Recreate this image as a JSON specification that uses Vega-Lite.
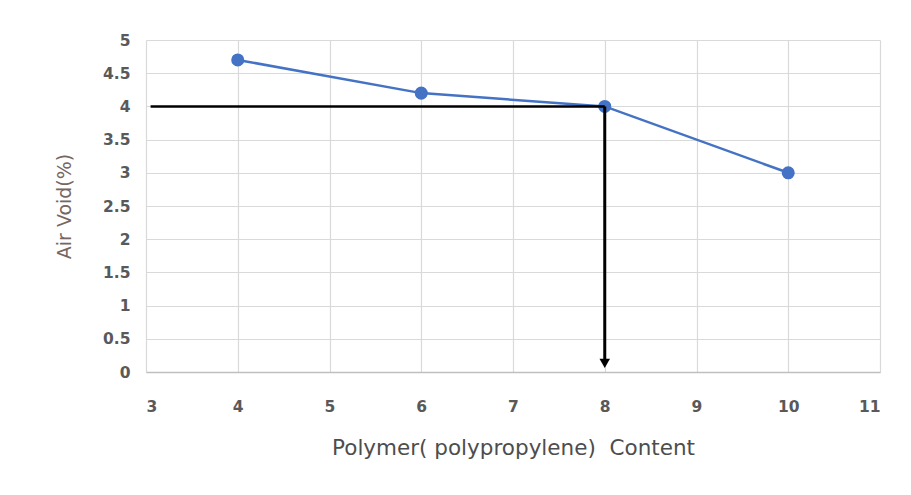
{
  "$schema": "https://vega.github.io/schema/vega-lite/v6.json",
  "width": 734,
  "height": 332,
  "autosize": {"type": "none"},
  "padding": {"left": 146, "top": 40, "right": 31, "bottom": 123},
  "background": "white",
  "config": {
    "view": {"stroke": null},
    "axis": {
      "labelFont": "DejaVu Sans",
      "labelFontSize": 15.5,
      "labelFontWeight": "bold",
      "labelColor": "#595959",
      "titleFont": "DejaVu Sans",
      "titleFontWeight": "normal",
      "titleFontSize": 19,
      "gridColor": "#d9d9d9",
      "gridWidth": 1.2,
      "ticks": false
    }
  },
  "datasets": {
    "series": [
      {"x": 4, "y": 4.7},
      {"x": 6, "y": 4.2},
      {"x": 8, "y": 4.0},
      {"x": 10, "y": 3.0}
    ],
    "guideH": [
      {"x": 3.05, "y": 4.0},
      {"x": 8, "y": 4.0}
    ],
    "guideV": [
      {"x": 8, "y": 4.0},
      {"x": 8, "y": 0.12}
    ],
    "arrow": [
      {"x": 8, "y": 0.13}
    ]
  },
  "encoding": {
    "x": {
      "field": "x", "type": "quantitative",
      "scale": {"domain": [3, 11], "nice": false},
      "axis": {
        "values": [3, 4, 5, 6, 7, 8, 9, 10, 11],
        "format": "~g",
        "title": "Polymer( polypropylene)\u00a0 Content",
        "titleColor": "#4d4d4d",
        "titleFontSize": 21.5,
        "labelPadding": 27,
        "titlePadding": 23,
        "domainColor": "#bfbfbf",
        "domainWidth": 1.5
      }
    },
    "y": {
      "field": "y", "type": "quantitative",
      "scale": {"domain": [0, 5], "nice": false},
      "axis": {
        "values": [0, 0.5, 1, 1.5, 2, 2.5, 3, 3.5, 4, 4.5, 5],
        "format": "~g",
        "labelOverlap": false,
        "title": "Air Void(%)",
        "titleColor": "#76665f",
        "labelPadding": 16,
        "titlePadding": 28,
        "domain": false
      }
    }
  },
  "layer": [
    {
      "data": {"name": "series"},
      "mark": {"type": "line", "color": "#4472C4", "strokeWidth": 2.5}
    },
    {
      "data": {"name": "series"},
      "mark": {"type": "point", "filled": true, "color": "#4472C4", "size": 170, "opacity": 1}
    },
    {
      "data": {"name": "guideH"},
      "mark": {"type": "line", "color": "black", "strokeWidth": 2.5}
    },
    {
      "data": {"name": "guideV"},
      "mark": {"type": "line", "color": "black", "strokeWidth": 3}
    },
    {
      "data": {"name": "arrow"},
      "mark": {"type": "point", "shape": "triangle-down", "filled": true, "color": "black", "size": 110, "opacity": 1}
    }
  ]
}
